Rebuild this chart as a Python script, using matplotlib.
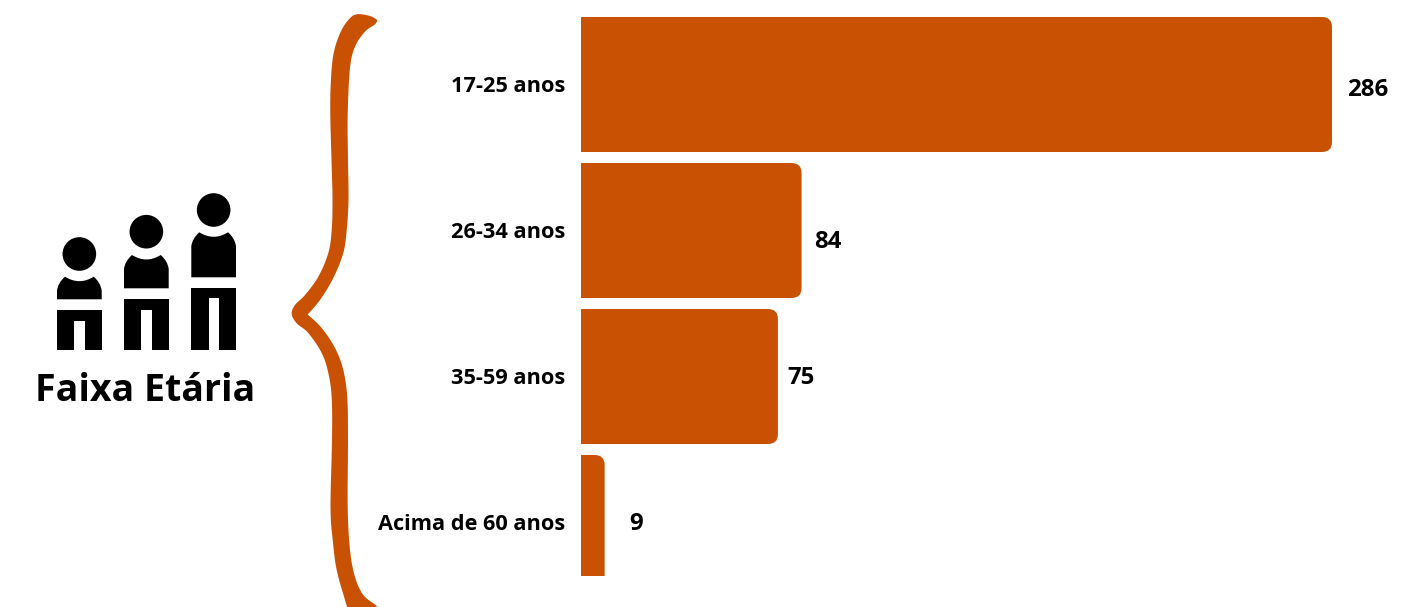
import numpy as np
import matplotlib
matplotlib.use('Agg')
import matplotlib.pyplot as plt
from matplotlib.path import Path
from matplotlib.patches import PathPatch, Circle, Polygon

faixas = ['17-25 anos', '26-34 anos', '35-59 anos', 'Acima de 60 anos']
valores = [286, 84, 75, 9]
titulo = 'Faixa Etária'

cor = '#C85103'
largura_px, altura_px = 1422, 607
plt.rcParams['font.family'] = ['Open Sans', 'DejaVu Sans']
plt.rcParams['font.weight'] = 'bold'


def suavizar(pontos, n=12):
    # catmull-rom, so para o contorno da chave
    p = np.array(pontos, dtype=float)
    p = np.vstack([p[0], p, p[-1]])
    saida = []
    for i in range(1, len(p) - 2):
        for t in np.linspace(0, 1, n, endpoint=False):
            saida.append(0.5 * (2 * p[i] + (p[i + 1] - p[i - 1]) * t
                                + (2 * p[i - 1] - 5 * p[i] + 4 * p[i + 1] - p[i + 2]) * t ** 2
                                + (3 * p[i] - p[i - 1] - 3 * p[i + 1] + p[i + 2]) * t ** 3))
    saida.append(p[-2])
    return saida


def barra_arredondada(largura, centro, altura, rx, ry):
    x0, y0, y1 = 0, centro - altura / 2, centro + altura / 2
    verts = [(x0, y0), (largura - rx, y0), (largura, y0), (largura, y0 + ry),
             (largura, y1 - ry), (largura, y1), (largura - rx, y1), (x0, y1), (x0, y0)]
    codes = [Path.MOVETO, Path.LINETO, Path.CURVE3, Path.CURVE3,
             Path.LINETO, Path.CURVE3, Path.CURVE3, Path.LINETO, Path.CLOSEPOLY]
    return Path(verts, codes)


fig = plt.figure(figsize=(largura_px / 100, altura_px / 100), dpi=100, facecolor='white')

# camada em pixels para a chave e os bonecos
fundo = fig.add_axes([0, 0, 1, 1])
fundo.set_xlim(0, largura_px)
fundo.set_ylim(altura_px, 0)
fundo.axis('off')

fora = [(377.3, 20), (370, 16), (356.7, 14.3), (348.3, 20), (340, 33.3), (333.3, 55), (330.7, 85),
        (330.3, 115), (331.5, 160), (332.5, 200), (331.7, 230), (328.3, 253), (318.3, 276.7),
        (305, 295), (295, 305), (291.7, 314), (296.7, 323.3), (308.3, 333), (321.7, 353),
        (328.3, 373), (331.7, 398), (332, 440), (330.5, 507), (332.7, 540), (336.7, 570),
        (345, 600), (347.3, 607)]
dentro_baixo = [(376, 607), (376, 605.3), (363.3, 595), (355, 577), (350, 550), (347.7, 507),
                (348, 440), (347.3, 398), (343.3, 370), (335, 348), (321.7, 328), (307.7, 314.5)]
dentro_cima = [(307.7, 314.5), (320, 300), (333.3, 278), (343.3, 253), (346.7, 230), (348.5, 200),
               (348, 160), (347.7, 115), (350, 68), (355, 46.7), (365, 31.7), (375, 24.3), (377.3, 20)]
chave = suavizar(fora) + suavizar(dentro_baixo) + suavizar(dentro_cima)
fundo.add_patch(Polygon(chave, closed=True, facecolor=cor, edgecolor='none'))

# bonecos: x esquerdo, centro cabeca, topo tronco, base tronco, topo pernas, topo vao
bonecos = [(57, 254, 276.7, 299.3, 310, 321),
           (124, 231.7, 255, 288.3, 299, 310),
           (191.3, 210, 232.3, 277.3, 287.7, 298.3)]
for x0, cabeca, topo, base, pernas, vao in bonecos:
    w = 44.7
    fundo.add_patch(Circle((x0 + w / 2, cabeca), 16.8, color='black', lw=0))
    tronco = Path([(x0, base), (x0, topo + 14), (x0 + 1, topo + 6), (x0 + 8, topo),
                   (x0 + w / 2, topo + 9), (x0 + w - 8, topo),
                   (x0 + w - 1, topo + 6), (x0 + w, topo + 14), (x0 + w, base), (x0, base)],
                  [Path.MOVETO, Path.LINETO, Path.CURVE3, Path.CURVE3,
                   Path.CURVE3, Path.CURVE3,
                   Path.CURVE3, Path.CURVE3, Path.LINETO, Path.CLOSEPOLY])
    fundo.add_patch(PathPatch(tronco, facecolor='black', edgecolor='none'))
    fundo.add_patch(Polygon([(x0, 350), (x0, pernas), (x0 + w, pernas), (x0 + w, 350),
                             (x0 + 28, 350), (x0 + 28, vao), (x0 + 17.3, vao), (x0 + 17.3, 350)],
                            closed=True, facecolor='black', edgecolor='none'))

fundo.text(145.5, 391, titulo, ha='center', va='center', fontsize=27, fontweight='bold', color='black')

# barras: 0 em x=581, 286 em x=1332, passo de 146 px
esq, dir_ = 581, 1332
topo_px, base_px = 17, 576
ax = fig.add_axes([esq / largura_px, 1 - base_px / altura_px, (dir_ - esq) / largura_px,
                   (base_px - topo_px) / altura_px])
ax.patch.set_alpha(0)
ax.set_xlim(0, max(valores))
y0 = (84.5 - topo_px) / 146
ax.set_ylim((base_px - topo_px) / 146 - y0, -y0)
pos = np.arange(len(faixas))
rx = 10 * max(valores) / (dir_ - esq)
ry = 10 / 146
for p, v in zip(pos, valores):
    ax.add_patch(PathPatch(barra_arredondada(v, p, 135 / 146, rx, ry),
                           facecolor=cor, edgecolor='none'))

ax.set_yticks(pos)
ax.set_yticklabels(faixas, fontsize=15.7, fontweight='bold', color='black')
ax.tick_params(axis='y', length=0, pad=11.5)
ax.set_xticks([])
for s in ax.spines.values():
    s.set_visible(False)

# deslocamento dos rotulos em px, como na figura
desloc_x = [15, 13, 9, 25]
desloc_y = [-5.5, -11.5, -2, -2]
for p, v, dx, dy in zip(pos, valores, desloc_x, desloc_y):
    ax.annotate(str(v), (v, p), xytext=(dx * 0.72, dy * 0.72), textcoords='offset points',
                ha='left', va='center', fontsize=17.3, fontweight='bold', color='black',
                annotation_clip=False)

fig.savefig('out.png', dpi=100, facecolor='white')
